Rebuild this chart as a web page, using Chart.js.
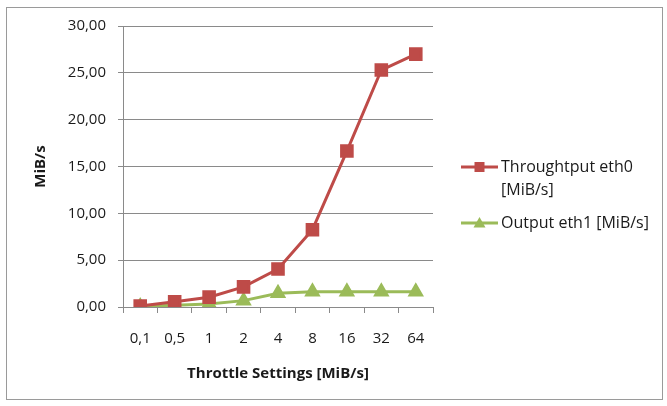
<!DOCTYPE html>
<html>
<head>
<meta charset="utf-8">
<script src="https://cdn.jsdelivr.net/npm/chart.js@4/dist/chart.umd.min.js"></script>
<style>
  html, body { margin: 0; padding: 0; background: #fff; }
  #wrap { position: relative; width: 667px; height: 406px; }
</style>
</head>
<body>
<div id="wrap"><canvas id="c" width="667" height="406"></canvas></div>
<script>
// Throttle settings on the category axis
const categories = ['0,1', '0,5', '1', '2', '4', '8', '16', '32', '64'];
// Measured rates per throttle setting
const throughputEth0 = [0.1, 0.55, 1.05, 2.15, 4.05, 8.25, 16.65, 25.3, 27.0];
const outputEth1 = [0.05, 0.2, 0.33, 0.68, 1.47, 1.62, 1.62, 1.62, 1.62];
// Y axis tick range
const yTicks = [0, 5, 10, 15, 20, 25, 30];

const seriesNames = ['Throughtput eth0 [MiB/s]', 'Output eth1 [MiB/s]'];
const RED = '#BE4B48';
const GREEN = '#9BBB59';
const GRID = '#8a8a8a';
const FONT = 'Open Sans';

const fmt = v => v.toFixed(2).replace('.', ',');

// Frame round the whole chart and a legend to the right of the plot
const framePlugin = {
  id: 'frame',
  beforeDraw(chart) {
    const ctx = chart.ctx;
    ctx.save();
    ctx.fillStyle = '#fff';
    ctx.fillRect(0, 0, chart.width, chart.height);
    ctx.strokeStyle = '#9a9a9a';
    ctx.lineWidth = 1;
    ctx.strokeRect(6.5, 7.5, 656, 392);
    ctx.restore();
  },
  afterDraw(chart) {
    const ctx = chart.ctx;
    const x0 = chart.chartArea.right + 28;
    ctx.save();
    ctx.font = '16px "' + FONT + '"';
    ctx.textBaseline = 'middle';
    ctx.fillStyle = '#1a1a1a';
    const rows = [
      { color: RED, shape: 'rect', y: 167, lines: ['Throughtput eth0', '[MiB/s]'] },
      { color: GREEN, shape: 'tri', y: 223, lines: ['Output eth1 [MiB/s]'] }
    ];
    rows.forEach(r => {
      ctx.strokeStyle = r.color;
      ctx.lineWidth = 3;
      ctx.beginPath();
      ctx.moveTo(x0, r.y);
      ctx.lineTo(x0 + 37, r.y);
      ctx.stroke();
      ctx.fillStyle = r.color;
      const cx = x0 + 18.5;
      if (r.shape === 'rect') {
        ctx.fillRect(cx - 5, r.y - 5, 10, 10);
      } else {
        ctx.beginPath();
        ctx.moveTo(cx, r.y - 6);
        ctx.lineTo(cx + 6, r.y + 4.5);
        ctx.lineTo(cx - 6, r.y + 4.5);
        ctx.closePath();
        ctx.fill();
      }
      ctx.fillStyle = '#1a1a1a';
      r.lines.forEach((t, i) => ctx.fillText(t, x0 + 40, r.y + i * 23));
    });
    ctx.restore();
  }
};

new Chart(document.getElementById('c'), {
  type: 'line',
  data: {
    labels: categories,
    datasets: [
      {
        label: seriesNames[0],
        data: throughputEth0,
        borderColor: RED,
        backgroundColor: RED,
        borderWidth: 3,
        pointStyle: 'rect',
        pointRadius: 7.5,
        pointHoverRadius: 7.5,
        tension: 0
      },
      {
        label: seriesNames[1],
        data: outputEth1,
        borderColor: GREEN,
        backgroundColor: GREEN,
        borderWidth: 3,
        pointStyle: 'triangle',
        pointRadius: 6.5,
        pointHoverRadius: 6.5,
        tension: 0
      }
    ]
  },
  options: {
    responsive: false,
    animation: false,
    devicePixelRatio: 1,
    layout: { padding: { left: 0, right: 234, top: 26, bottom: 0 } },
    plugins: {
      legend: { display: false },
      tooltip: { enabled: false }
    },
    scales: {
      x: {
        offset: true,
        grid: {
          offset: true,
          drawOnChartArea: false,
          drawTicks: true,
          tickLength: 6,
          color: GRID
        },
        border: { color: GRID, width: 1 },
        ticks: {
          color: '#1a1a1a',
          font: { family: FONT, size: 15 },
          padding: 17,
          maxRotation: 0,
          autoSkip: false
        },
        title: {
          display: true,
          text: 'Throttle Settings [MiB/s]',
          color: '#1a1a1a',
          font: { family: FONT, size: 15, weight: 'bold' },
          padding: { top: 0, bottom: 23 }
        },
        afterFit(s) { s.height = 99; }
      },
      y: {
        min: yTicks[0],
        max: yTicks[yTicks.length - 1],
        afterBuildTicks(s) { s.ticks = yTicks.map(v => ({ value: v })); },
        grid: {
          color: GRID,
          tickLength: 5,
          lineWidth: 1
        },
        border: { color: GRID, width: 1 },
        ticks: {
          color: '#1a1a1a',
          font: { family: FONT, size: 15 },
          padding: 12,
          callback: v => fmt(v)
        },
        title: {
          display: true,
          text: 'MiB/s',
          color: '#1a1a1a',
          font: { family: FONT, size: 15, weight: 'bold' },
          padding: { top: 32, bottom: 0 }
        },
        afterFit(s) { s.width = 123; }
      }
    }
  },
  plugins: [framePlugin]
});
</script>
</body>
</html>
